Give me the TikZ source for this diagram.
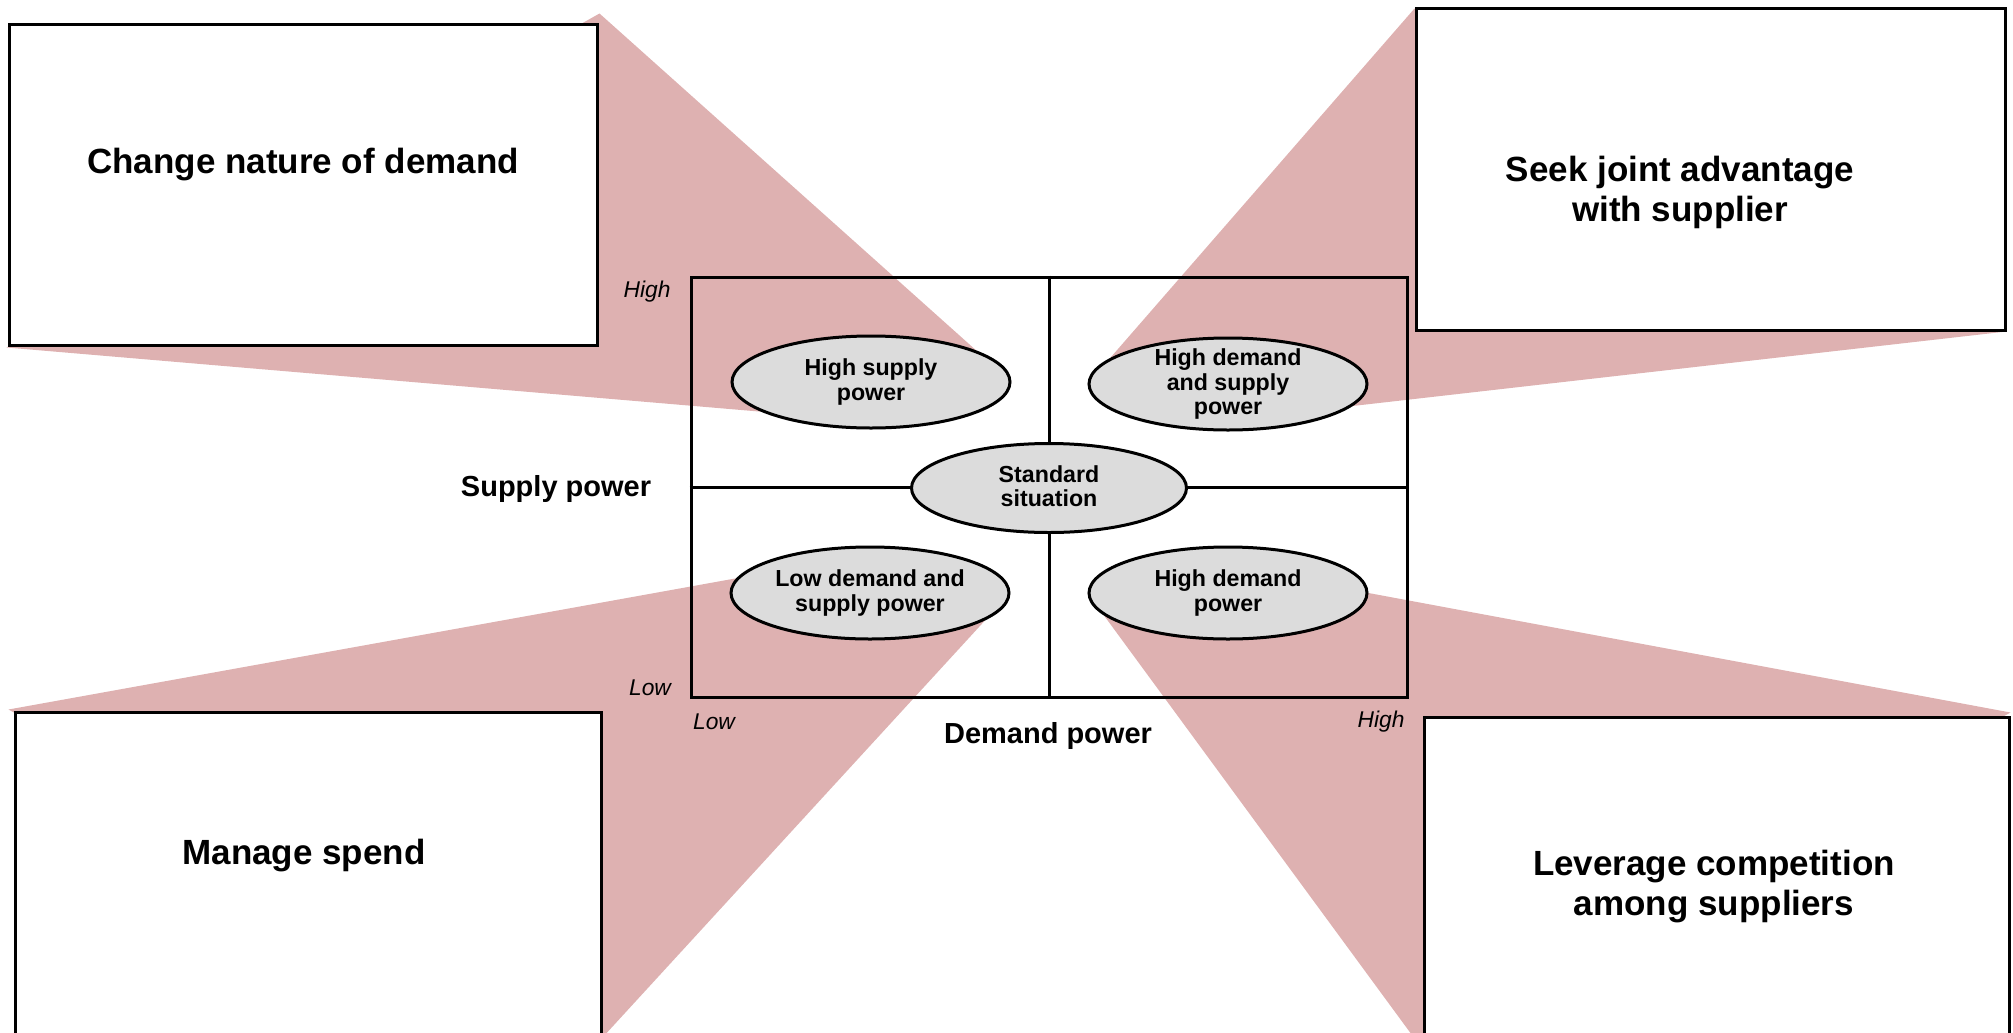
\documentclass[tikz,border=0pt]{standalone}
\usepackage{fontspec}
\setmainfont{Liberation Sans}
\usetikzlibrary{shapes.geometric,calc,backgrounds}
\definecolor{wedgepink}{RGB}{222,177,177}
\definecolor{ovalgray}{RGB}{220,220,220}

\begin{document}
\begin{tikzpicture}[x=0.5pt,y=-0.5pt,
  outline/.style={draw=black,line width=1.5pt},
  stratbox/.style={outline,fill=white,rectangle,inner sep=0pt},
  oval/.style={outline,fill=ovalgray,ellipse,inner sep=0pt,minimum width=139pt,minimum height=46pt},
  ovaltext/.style={font=\bfseries\fontsize{11.6}{12.2}\selectfont,align=center,inner sep=0pt},
  boxtext/.style={font=\bfseries\fontsize{17.5}{20}\selectfont,align=center,inner sep=0pt},
  axistext/.style={font=\bfseries\fontsize{14.5}{17}\selectfont,inner sep=0pt},
  scaletext/.style={font=\itshape\fontsize{11.4}{13}\selectfont,inner sep=0pt},
  wedge/.style={fill=wedgepink,draw=none}
]
\useasboundingbox (0,0) rectangle (2013,1033);

% the four strategy boxes
\node[stratbox,minimum width=294pt,minimum height=160.5pt] (tlbox) at (303,184.5) {};
\node[stratbox,minimum width=294.5pt,minimum height=161pt] (trbox) at (1710.5,169) {};
\node[stratbox,minimum width=293pt,minimum height=162pt] (blbox) at (308,874) {};
\node[stratbox,minimum width=292.5pt,minimum height=160pt] (brbox) at (1716.5,877) {};

\node[boxtext,anchor=base] (tltext) at (303,173) {Change nature of demand};
\node[boxtext] (trtext) at (1680,192) {Seek joint advantage\\ with supplier};
\node[boxtext] (bltext) at (304,856) {Manage spend};
\node[boxtext] (brtext) at (1714,887) {Leverage competition\\ among suppliers};

% power matrix
\node[outline,rectangle,inner sep=0pt,minimum width=358pt,minimum height=210pt] (grid) at (1049,487) {};
\draw[outline] (grid.north) -- (grid.south);
\draw[outline] (grid.west) -- (grid.east);

\node[oval] (hsp) at (871,382) {};
\node[oval] (hdsp) at (1228,384) {};
\node[oval,minimum width=137.5pt,minimum height=44.5pt] (std) at (1049,488) {};
\node[oval] (ldsp) at (870,593) {};
\node[oval] (hdp) at (1228,593) {};

\node[ovaltext] (hsptext) at (hsp) {High supply\\power};
\node[ovaltext] (hdsptext) at (hdsp) {High demand\\and supply\\power};
\node[ovaltext] (stdtext) at ($(std)+(0,-2)$) {Standard\\situation};
\node[ovaltext] (ldsptext) at (ldsp) {Low demand and\\supply power};
\node[ovaltext] (hdptext) at (hdp) {High demand\\power};

% axis labels
\node[axistext] (supply) at (556,489) {Supply power};
\node[axistext] (demand) at (1048,736) {Demand power};
\node[scaletext] (yhigh) at (647,292) {High};
\node[scaletext] (ylow) at (650,688) {Low};
\node[scaletext] (xlow) at (714,722) {Low};
\node[scaletext] (xhigh) at (1381,722) {High};

% callout wedges from each situation to its strategy box
\begin{pgfonlayer}{background}
\fill[wedge] ($(tlbox.south west)+(-1,1)$) -- ($(tlbox.north east)+(1,-9)$)
  -- (hsp.east) -- (800,415) -- cycle;
\fill[wedge] ($(trbox.north west)+(0,2)$) -- (hdsp.west) -- (1300,412)
  -- (trbox.south east) -- cycle;
\fill[wedge] ($(blbox.north west)+(-5,-1)$) -- (760,574) -- (990,615)
  -- (blbox.south east) -- cycle;
\fill[wedge] ($(brbox.north east)+(0,-3)$) -- (hdp.east) -- (hdp.west)
  -- ($(brbox.south west)+(-8,0)$) -- cycle;
\end{pgfonlayer}
\end{tikzpicture}
\end{document}
